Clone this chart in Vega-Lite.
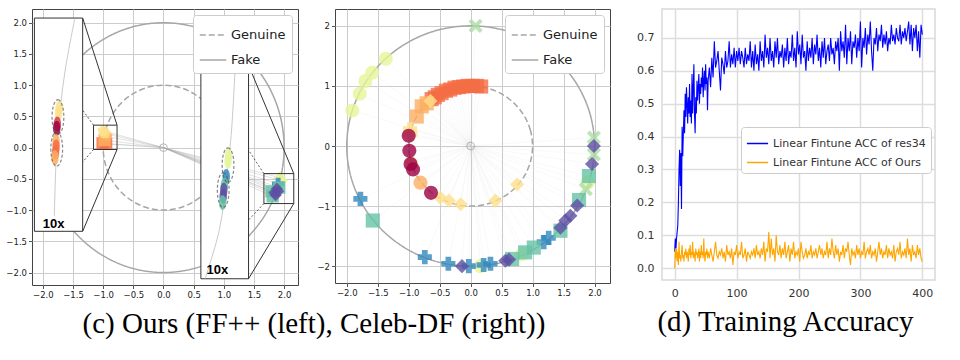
{
"$schema": "https://vega.github.io/schema/vega-lite/v6.json",
"background": "white",
"padding": {"left": 5, "top": 8, "right": 5, "bottom": 5},
"config": {"font": "DejaVu Sans", "title": {"font": "Liberation Serif", "fontSize": 29, "fontWeight": "normal", "color": "#000000", "orient": "bottom", "offset": 10, "anchor": "middle"}},
"datasets": {
"circ": [
{"c":"Genuine","i":0,"x":1,"y":0},{"c":"Genuine","i":1,"x":0.966,"y":0.259},{"c":"Genuine","i":2,"x":0.866,"y":0.5},{"c":"Genuine","i":3,"x":0.707,"y":0.707},{"c":"Genuine","i":4,"x":0.5,"y":0.866},{"c":"Genuine","i":5,"x":0.259,"y":0.966},{"c":"Genuine","i":6,"x":0,"y":1},{"c":"Genuine","i":7,"x":-0.259,"y":0.966},{"c":"Genuine","i":8,"x":-0.5,"y":0.866},{"c":"Genuine","i":9,"x":-0.707,"y":0.707},{"c":"Genuine","i":10,"x":-0.866,"y":0.5},{"c":"Genuine","i":11,"x":-0.966,"y":0.259},{"c":"Genuine","i":12,"x":-1,"y":0},{"c":"Genuine","i":13,"x":-0.966,"y":-0.259},{"c":"Genuine","i":14,"x":-0.866,"y":-0.5},{"c":"Genuine","i":15,"x":-0.707,"y":-0.707},{"c":"Genuine","i":16,"x":-0.5,"y":-0.866},{"c":"Genuine","i":17,"x":-0.259,"y":-0.966},{"c":"Genuine","i":18,"x":0,"y":-1},{"c":"Genuine","i":19,"x":0.259,"y":-0.966},{"c":"Genuine","i":20,"x":0.5,"y":-0.866},{"c":"Genuine","i":21,"x":0.707,"y":-0.707},{"c":"Genuine","i":22,"x":0.866,"y":-0.5},{"c":"Genuine","i":23,"x":0.966,"y":-0.259},
{"c":"Fake","i":0,"x":2,"y":0},{"c":"Fake","i":1,"x":1.932,"y":0.518},{"c":"Fake","i":2,"x":1.732,"y":1},{"c":"Fake","i":3,"x":1.414,"y":1.414},{"c":"Fake","i":4,"x":1,"y":1.732},{"c":"Fake","i":5,"x":0.518,"y":1.932},{"c":"Fake","i":6,"x":0,"y":2},{"c":"Fake","i":7,"x":-0.518,"y":1.932},{"c":"Fake","i":8,"x":-1,"y":1.732},{"c":"Fake","i":9,"x":-1.414,"y":1.414},{"c":"Fake","i":10,"x":-1.732,"y":1},{"c":"Fake","i":11,"x":-1.932,"y":0.518},{"c":"Fake","i":12,"x":-2,"y":0},{"c":"Fake","i":13,"x":-1.932,"y":-0.518},{"c":"Fake","i":14,"x":-1.732,"y":-1},{"c":"Fake","i":15,"x":-1.414,"y":-1.414},{"c":"Fake","i":16,"x":-1,"y":-1.732},{"c":"Fake","i":17,"x":-0.518,"y":-1.932},{"c":"Fake","i":18,"x":0,"y":-2},{"c":"Fake","i":19,"x":0.518,"y":-1.932},{"c":"Fake","i":20,"x":1,"y":-1.732},{"c":"Fake","i":21,"x":1.414,"y":-1.414},{"c":"Fake","i":22,"x":1.732,"y":-1},{"c":"Fake","i":23,"x":1.932,"y":-0.518}
],
"p1pts": [
{"x":-1.01,"y":0.07,"k":2,"m":"s"},{"x":-0.95,"y":0.06,"k":2,"m":"s"},{"x":-0.98,"y":0.12,"k":3,"m":"s"},{"x":-0.94,"y":0.18,"k":3,"m":"p"},{"x":-1.0,"y":0.27,"k":4,"m":"p"},{"x":-0.97,"y":0.23,"k":4,"m":"p"},
{"x":1.93,"y":-0.48,"k":5,"m":"D"},{"x":1.96,"y":-0.53,"k":5,"m":"D"},{"x":1.90,"y":-0.58,"k":8,"m":"P"},{"x":1.92,"y":-0.64,"k":7,"m":"s"},{"x":1.81,"y":-0.78,"k":7,"m":"s"},{"x":1.79,"y":-0.70,"k":7,"m":"s"},{"x":1.88,"y":-0.66,"k":9,"m":"D"},{"x":1.84,"y":-0.72,"k":9,"m":"D"},{"x":1.90,"y":-0.70,"k":9,"m":"D"},{"x":1.86,"y":-0.76,"k":9,"m":"D"}
],
"p2pts": [
{"x":-1.37,"y":1.45,"k":5,"m":"o"},{"x":-1.59,"y":1.22,"k":5,"m":"o"},{"x":-1.70,"y":1.08,"k":5,"m":"o"},{"x":-1.79,"y":0.87,"k":5,"m":"o"},{"x":-1.91,"y":0.59,"k":5,"m":"o"},{"x":1.89,"y":-0.61,"k":5,"m":"o"},{"x":0.16,"y":-2.0,"k":5,"m":"o"},{"x":0.83,"y":-1.80,"k":5,"m":"o"},
{"x":0.08,"y":2.0,"k":6,"m":"X"},{"x":1.99,"y":0.14,"k":6,"m":"X"},{"x":1.99,"y":-0.14,"k":6,"m":"X"},{"x":1.86,"y":-0.72,"k":6,"m":"X"},
{"x":-1.78,"y":-0.88,"k":8,"m":"P"},{"x":-0.74,"y":-1.85,"k":8,"m":"P"},{"x":-0.36,"y":-1.96,"k":8,"m":"P"},{"x":-0.03,"y":-2.0,"k":8,"m":"P"},{"x":0.21,"y":-1.98,"k":8,"m":"P"},{"x":0.32,"y":-1.96,"k":8,"m":"P"},{"x":1.18,"y":-1.60,"k":8,"m":"P"},{"x":1.26,"y":-1.53,"k":8,"m":"P"},
{"x":-1.58,"y":-1.24,"k":7,"m":"s"},{"x":1.91,"y":-0.50,"k":7,"m":"s"},{"x":1.75,"y":-0.90,"k":7,"m":"s"},{"x":1.45,"y":-1.41,"k":7,"m":"s"},{"x":1.02,"y":-1.69,"k":7,"m":"s"},{"x":0.88,"y":-1.77,"k":7,"m":"s"},{"x":0.67,"y":-1.88,"k":7,"m":"s"},
{"x":1.99,"y":0.0,"k":9,"m":"D"},{"x":1.96,"y":-0.30,"k":9,"m":"D"},{"x":1.72,"y":-0.99,"k":9,"m":"D"},{"x":1.61,"y":-1.16,"k":9,"m":"D"},{"x":1.53,"y":-1.24,"k":9,"m":"D"},{"x":1.45,"y":-1.36,"k":9,"m":"D"},{"x":0.56,"y":-1.91,"k":9,"m":"D"},{"x":0.62,"y":-1.89,"k":9,"m":"D"},{"x":-0.14,"y":-2.0,"k":9,"m":"D"},
{"x":0.17,"y":0.99,"k":2,"m":"s"},{"x":0.10,"y":1.0,"k":2,"m":"s"},{"x":0.03,"y":1.0,"k":2,"m":"s"},{"x":-0.05,"y":1.0,"k":2,"m":"s"},{"x":-0.12,"y":0.99,"k":2,"m":"s"},{"x":-0.19,"y":0.98,"k":2,"m":"s"},{"x":-0.26,"y":0.97,"k":2,"m":"s"},{"x":-0.33,"y":0.94,"k":2,"m":"s"},{"x":-0.40,"y":0.92,"k":2,"m":"s"},{"x":-0.47,"y":0.88,"k":2,"m":"s"},{"x":-0.53,"y":0.85,"k":2,"m":"s"},{"x":-0.58,"y":0.81,"k":2,"m":"s"},{"x":-0.63,"y":0.78,"k":2,"m":"s"},
{"x":-0.71,"y":0.71,"k":3,"m":"s"},{"x":-0.79,"y":0.66,"k":3,"m":"s"},{"x":-0.87,"y":0.49,"k":3,"m":"s"},
{"x":-0.65,"y":0.75,"k":4,"m":"D"},{"x":-0.96,"y":-0.25,"k":4,"m":"D"},{"x":-0.49,"y":-0.86,"k":4,"m":"D"},{"x":-0.35,"y":-0.91,"k":4,"m":"D"},{"x":-0.16,"y":-0.97,"k":4,"m":"D"},{"x":0.40,"y":-0.91,"k":4,"m":"D"},{"x":0.75,"y":-0.64,"k":4,"m":"D"},
{"x":-0.98,"y":0.28,"k":4,"m":"P"},{"x":-0.97,"y":0.20,"k":4,"m":"P"},
{"x":-1.0,"y":0.17,"k":0,"m":"o"},{"x":-0.99,"y":-0.08,"k":0,"m":"o"},{"x":-0.97,"y":-0.30,"k":0,"m":"o"},{"x":-0.93,"y":-0.39,"k":0,"m":"o"},{"x":-0.64,"y":-0.78,"k":0,"m":"o"},
{"x":-0.81,"y":-0.61,"k":3,"m":"o"}
],
"acc": [
{"e":0,"r":0.05,"o":0.00},{"e":1,"r":0.09,"o":0.06},{"e":2,"r":0.06,"o":0.03},{"e":3,"r":0.09,"o":0.06},{"e":4,"r":0.11,"o":0.02},{"e":5,"r":0.13,"o":0.05},{"e":6,"r":0.20,"o":0.01},{"e":7,"r":0.30,"o":0.08},{"e":8,"r":0.36,"o":0.03},{"e":9,"r":0.25,"o":0.04},
{"e":10,"r":0.35,"o":0.02},{"e":11,"r":0.18,"o":0.05},{"e":12,"r":0.43,"o":0.07},{"e":13,"r":0.34,"o":0.03},{"e":14,"r":0.41,"o":0.04},{"e":15,"r":0.48,"o":0.02},{"e":16,"r":0.41,"o":0.05},{"e":17,"r":0.53,"o":0.04},{"e":18,"r":0.46,"o":0.06},{"e":19,"r":0.55,"o":0.03},
{"e":20,"r":0.50,"o":0.05},{"e":21,"r":0.44,"o":0.04},{"e":22,"r":0.52,"o":0.02},{"e":23,"r":0.47,"o":0.06},{"e":24,"r":0.56,"o":0.04},{"e":25,"r":0.46,"o":0.07},{"e":26,"r":0.51,"o":0.03},{"e":27,"r":0.44,"o":0.05},{"e":28,"r":0.59,"o":0.04},{"e":29,"r":0.47,"o":0.08},
{"e":30,"r":0.55,"o":0.03},{"e":31,"r":0.62,"o":0.05},{"e":32,"r":0.47,"o":0.04},{"e":33,"r":0.41,"o":0.02},{"e":34,"r":0.52,"o":0.06},{"e":35,"r":0.47,"o":0.04},{"e":36,"r":0.57,"o":0.05},{"e":37,"r":0.51,"o":0.03},{"e":38,"r":0.55,"o":0.04},{"e":39,"r":0.59,"o":0.06},
{"e":40,"r":0.50,"o":0.02},{"e":41,"r":0.56,"o":0.05},{"e":42,"r":0.53,"o":0.03},{"e":43,"r":0.58,"o":0.07},{"e":44,"r":0.55,"o":0.04},{"e":45,"r":0.61,"o":0.05},{"e":46,"r":0.52,"o":0.03},{"e":47,"r":0.57,"o":0.09},{"e":48,"r":0.60,"o":0.04},{"e":49,"r":0.54,"o":0.02},
{"e":50,"r":0.62,"o":0.05},{"e":51,"r":0.56,"o":0.04},{"e":52,"r":0.58,"o":0.06},{"e":53,"r":0.48,"o":0.03},
{"e":54,"r":0.57,"o":0.05},{"e":56,"r":0.61,"o":0.03},{"e":58,"r":0.55,"o":0.06},{"e":60,"r":0.64,"o":0.04},{"e":62,"r":0.58,"o":0.02},{"e":64,"r":0.69,"o":0.05},{"e":66,"r":0.61,"o":0.08},{"e":68,"r":0.63,"o":0.04},{"e":70,"r":0.66,"o":0.03},{"e":72,"r":0.60,"o":0.05},
{"e":74,"r":0.54,"o":0.04},{"e":76,"r":0.64,"o":0.06},{"e":78,"r":0.62,"o":0.03},{"e":80,"r":0.59,"o":0.05},{"e":82,"r":0.66,"o":0.02},{"e":84,"r":0.61,"o":0.07},{"e":86,"r":0.63,"o":0.04},{"e":88,"r":0.69,"o":0.05},{"e":90,"r":0.61,"o":0.03},{"e":92,"r":0.65,"o":0.06},
{"e":94,"r":0.62,"o":0.01},{"e":96,"r":0.67,"o":0.05},{"e":98,"r":0.61,"o":0.04},{"e":100,"r":0.66,"o":0.07},{"e":102,"r":0.63,"o":0.03},{"e":104,"r":0.67,"o":0.05},{"e":106,"r":0.62,"o":0.04},{"e":108,"r":0.66,"o":0.08},{"e":110,"r":0.64,"o":0.03},{"e":112,"r":0.61,"o":0.04},
{"e":114,"r":0.67,"o":0.06},{"e":116,"r":0.62,"o":0.02},{"e":118,"r":0.65,"o":0.05},{"e":120,"r":0.63,"o":0.04},{"e":122,"r":0.69,"o":0.03},{"e":124,"r":0.61,"o":0.05},{"e":126,"r":0.66,"o":0.04},{"e":128,"r":0.60,"o":0.06},{"e":130,"r":0.68,"o":0.03},{"e":132,"r":0.62,"o":0.07},
{"e":134,"r":0.65,"o":0.04},{"e":136,"r":0.60,"o":0.05},{"e":138,"r":0.69,"o":0.03},{"e":140,"r":0.63,"o":0.06},{"e":142,"r":0.66,"o":0.04},{"e":144,"r":0.61,"o":0.08},{"e":146,"r":0.71,"o":0.02},{"e":148,"r":0.64,"o":0.06},{"e":150,"r":0.67,"o":0.05},{"e":152,"r":0.62,"o":0.11},
{"e":154,"r":0.70,"o":0.03},{"e":156,"r":0.63,"o":0.09},{"e":158,"r":0.66,"o":0.04},{"e":160,"r":0.61,"o":0.06},{"e":162,"r":0.69,"o":0.02},{"e":164,"r":0.64,"o":0.10},{"e":166,"r":0.70,"o":0.05},{"e":168,"r":0.62,"o":0.04},{"e":170,"r":0.66,"o":0.07},{"e":172,"r":0.64,"o":0.03},
{"e":174,"r":0.68,"o":0.06},{"e":176,"r":0.61,"o":0.04},{"e":178,"r":0.67,"o":0.08},{"e":180,"r":0.63,"o":0.03},{"e":182,"r":0.70,"o":0.05},{"e":184,"r":0.62,"o":0.07},{"e":186,"r":0.66,"o":0.02},{"e":188,"r":0.64,"o":0.06},{"e":190,"r":0.71,"o":0.04},{"e":192,"r":0.63,"o":0.08},
{"e":194,"r":0.67,"o":0.03},{"e":196,"r":0.61,"o":0.05},{"e":198,"r":0.72,"o":0.04},{"e":200,"r":0.65,"o":0.06},{"e":202,"r":0.68,"o":0.02},{"e":204,"r":0.62,"o":0.08},{"e":206,"r":0.71,"o":0.05},{"e":208,"r":0.64,"o":0.03},{"e":210,"r":0.66,"o":0.04},{"e":212,"r":0.60,"o":0.06},
{"e":214,"r":0.69,"o":0.03},{"e":216,"r":0.63,"o":0.05},{"e":218,"r":0.67,"o":0.04},{"e":220,"r":0.64,"o":0.07},{"e":222,"r":0.70,"o":0.03},{"e":224,"r":0.62,"o":0.05},{"e":226,"r":0.68,"o":0.04},{"e":228,"r":0.65,"o":0.06},{"e":230,"r":0.71,"o":0.03},{"e":232,"r":0.63,"o":0.05},
{"e":234,"r":0.67,"o":0.07},{"e":236,"r":0.61,"o":0.04},{"e":238,"r":0.69,"o":0.06},{"e":240,"r":0.64,"o":0.03},{"e":242,"r":0.70,"o":0.05},{"e":244,"r":0.62,"o":0.04},{"e":246,"r":0.66,"o":0.08},{"e":248,"r":0.68,"o":0.03},{"e":250,"r":0.63,"o":0.06},{"e":252,"r":0.70,"o":0.04},
{"e":254,"r":0.65,"o":0.09},{"e":256,"r":0.67,"o":0.05},{"e":258,"r":0.62,"o":0.03},{"e":260,"r":0.69,"o":0.07},{"e":262,"r":0.66,"o":0.04},{"e":264,"r":0.70,"o":0.06},{"e":266,"r":0.60,"o":0.02},{"e":268,"r":0.72,"o":0.05},{"e":270,"r":0.66,"o":0.04},{"e":272,"r":0.69,"o":0.07},
{"e":274,"r":0.64,"o":0.03},{"e":276,"r":0.74,"o":0.06},{"e":278,"r":0.62,"o":0.05},{"e":280,"r":0.70,"o":0.08},{"e":282,"r":0.66,"o":0.04},{"e":284,"r":0.72,"o":0.01},{"e":286,"r":0.62,"o":0.06},{"e":288,"r":0.69,"o":0.04},{"e":290,"r":0.67,"o":0.05},{"e":292,"r":0.71,"o":0.03},
{"e":294,"r":0.64,"o":0.07},{"e":296,"r":0.70,"o":0.04},{"e":298,"r":0.66,"o":0.06},{"e":300,"r":0.75,"o":0.03},{"e":302,"r":0.61,"o":0.05},{"e":304,"r":0.70,"o":0.04},{"e":306,"r":0.67,"o":0.08},{"e":308,"r":0.73,"o":0.03},{"e":310,"r":0.65,"o":0.05},{"e":312,"r":0.71,"o":0.06},
{"e":314,"r":0.68,"o":0.04},{"e":316,"r":0.75,"o":0.07},{"e":318,"r":0.66,"o":0.03},{"e":320,"r":0.60,"o":0.05},{"e":322,"r":0.70,"o":0.04},{"e":324,"r":0.68,"o":0.06},{"e":326,"r":0.73,"o":0.02},{"e":328,"r":0.66,"o":0.05},{"e":330,"r":0.71,"o":0.08},{"e":332,"r":0.69,"o":0.04},
{"e":334,"r":0.74,"o":0.06},{"e":336,"r":0.67,"o":0.03},{"e":338,"r":0.71,"o":0.05},{"e":340,"r":0.68,"o":0.04},{"e":342,"r":0.72,"o":0.07},{"e":344,"r":0.66,"o":0.03},{"e":346,"r":0.70,"o":0.06},{"e":348,"r":0.68,"o":0.04},{"e":350,"r":0.74,"o":0.05},{"e":352,"r":0.69,"o":0.03},
{"e":354,"r":0.71,"o":0.07},{"e":356,"r":0.68,"o":0.02},{"e":358,"r":0.73,"o":0.05},{"e":360,"r":0.70,"o":0.06},{"e":362,"r":0.69,"o":0.04},{"e":364,"r":0.74,"o":0.08},{"e":366,"r":0.68,"o":0.03},{"e":368,"r":0.72,"o":0.05},{"e":370,"r":0.70,"o":0.04},{"e":372,"r":0.73,"o":0.06},
{"e":374,"r":0.69,"o":0.03},{"e":376,"r":0.72,"o":0.09},{"e":378,"r":0.75,"o":0.04},{"e":380,"r":0.68,"o":0.06},{"e":382,"r":0.74,"o":0.02},{"e":384,"r":0.66,"o":0.07},{"e":386,"r":0.73,"o":0.04},{"e":388,"r":0.70,"o":0.05},{"e":390,"r":0.74,"o":0.03},{"e":392,"r":0.66,"o":0.07},
{"e":394,"r":0.72,"o":0.04},{"e":396,"r":0.64,"o":0.06},{"e":398,"r":0.74,"o":0.03},{"e":400,"r":0.71,"o":0.02}
]
},
"spacing": 24,
"resolve": {"scale": {"color": "independent", "strokeDash": "independent", "shape": "independent"}, "legend": {"color": "independent", "strokeDash": "independent", "shape": "independent"}},
"hconcat": [
{
"spacing": 17,
"title": {"text": "(c) Ours (FF++ (left), Celeb-DF (right))", "dx": 6},
"resolve": {"scale": {"color": "independent", "strokeDash": "independent", "shape": "independent"}, "legend": {"color": "independent", "strokeDash": "independent", "shape": "independent"}},
"hconcat": [
{
"width": 266, "height": 276,
"view": {"stroke": "#444444"},
"encoding": {
"x": {"field": "x", "type": "quantitative", "title": null, "scale": {"domain": [-2.18, 2.23], "nice": false, "zero": false}, "axis": {"values": [-2, -1.5, -1, -0.5, 0, 0.5, 1, 1.5, 2], "format": ".1f", "grid": true, "gridColor": "#cccccc", "domain": false, "tickColor": "#555555", "tickSize": 3.5, "labelFontSize": 8.5, "labelColor": "#222222", "labelPadding": 2}},
"y": {"field": "y", "type": "quantitative", "title": null, "scale": {"domain": [-2.2, 2.22], "nice": false, "zero": false}, "axis": {"values": [-2, -1.5, -1, -0.5, 0, 0.5, 1, 1.5, 2], "format": ".1f", "grid": true, "gridColor": "#cccccc", "domain": false, "tickColor": "#555555", "tickSize": 3.5, "labelFontSize": 8.5, "labelColor": "#222222", "labelPadding": 2}}
},
"layer": [
{"data": {"name": "circ"}, "mark": {"type": "line", "interpolate": "cardinal-closed", "color": "#a6a6a6", "strokeWidth": 1.5},
 "encoding": {"order": {"field": "i"}, "strokeDash": {"field": "c", "type": "nominal", "scale": {"domain": ["Genuine", "Fake"], "range": [[6, 3], [1, 0]]},
  "legend": {"title": null, "orient": "top-right", "offset": 6, "fillColor": "white", "strokeColor": "#cccccc", "padding": 6, "cornerRadius": 3, "symbolType": "stroke", "symbolSize": 700, "symbolStrokeWidth": 1.5, "symbolStrokeColor": "#a6a6a6", "labelFontSize": 13, "labelColor": "#222222", "rowPadding": 4}}}},
{"data": {"values": [{"x": 0, "y": 0}]}, "mark": {"type": "point", "filled": false, "color": "#999999", "size": 60, "strokeWidth": 1}},
{"data": {"name": "p1pts"}, "mark": {"type": "rule", "color": "#aaaaaa", "opacity": 0.35, "strokeWidth": 1}, "encoding": {"x2": {"datum": 0}, "y2": {"datum": 0}}},
{"data": {"name": "p1pts"}, "mark": {"type": "point", "filled": true, "opacity": 0.85, "size": 150},
 "encoding": {"color": {"field": "k", "type": "nominal", "legend": null, "scale": {"domain": [0,1,2,3,4,5,6,7,8,9], "range": ["#9e0142","#d53e4f","#f46d43","#fdae61","#fee08b","#e6f598","#abdda4","#66c2a5","#3288bd","#5e4fa2"]}},
  "shape": {"field": "m", "type": "nominal", "legend": null, "scale": {"domain": ["o","s","D","P","X","p"], "range": ["circle","square","diamond","cross","M-1,-0.6L-0.6,-1L0,-0.4L0.6,-1L1,-0.6L0.4,0L1,0.6L0.6,1L0,0.4L-0.6,1L-1,0.6L-0.4,0Z","M0,-1L0.95,-0.31L0.59,0.81L-0.59,0.81L-0.95,-0.31Z"]}}}},
{"data": {"values": [{"x": -2.14, "x2": -1.34, "y": -1.34, "y2": 2.075}, {"x": 0.62, "x2": 1.41, "y": -2.10, "y2": 1.32}]}, "mark": {"type": "rect", "fill": "white", "stroke": "#333333", "strokeWidth": 1}, "encoding": {"x2": {"field": "x2"}, "y2": {"field": "y2"}}},
{"data": {"values": [{"g":1,"x":-1.47,"y":2.07},{"g":1,"x":-1.62,"y":1.3},{"g":1,"x":-1.72,"y":0.55},{"g":1,"x":-1.78,"y":-0.2},{"g":1,"x":-1.81,"y":-1.1},{"g":2,"x":1.19,"y":1.32},{"g":2,"x":1.13,"y":0.3},{"g":2,"x":1.05,"y":-0.45},{"g":2,"x":0.93,"y":-1.3},{"g":2,"x":0.69,"y":-2.1}]},
 "mark": {"type": "line", "interpolate": "cardinal", "color": "#bbbbbb", "strokeWidth": 0.8}, "encoding": {"detail": {"field": "g"}, "order": {"field": "y"}}},
{"data": {"values": [{"x":-1.73,"y":0.63,"k":4},{"x":-1.74,"y":0.55,"k":4},{"x":-1.76,"y":0.38,"k":1},{"x":-1.77,"y":0.31,"k":0},{"x":-1.78,"y":0.10,"k":3},{"x":-1.78,"y":0.01,"k":2},{"x":-1.79,"y":-0.08,"k":2},{"x":-1.80,"y":-0.16,"k":3},{"x":1.08,"y":-0.12,"k":5},{"x":1.07,"y":-0.22,"k":5},{"x":1.04,"y":-0.46,"k":8},{"x":1.01,"y":-0.60,"k":7},{"x":1.00,"y":-0.68,"k":9},{"x":0.99,"y":-0.78,"k":9},{"x":0.98,"y":-0.88,"k":7}]},
 "mark": {"type": "point", "filled": true, "opacity": 0.85, "size": 220, "shape": "M0,-1A0.5,1,0,1,1,0,1A0.5,1,0,1,1,0,-1Z"},
 "encoding": {"color": {"field": "k", "type": "nominal", "legend": null, "scale": {"domain": [0,1,2,3,4,5,6,7,8,9], "range": ["#9e0142","#d53e4f","#f46d43","#fdae61","#fee08b","#e6f598","#abdda4","#66c2a5","#3288bd","#5e4fa2"]}}}},
{"data": {"values": [{"x":-1.75,"y":0.49},{"x":-1.77,"y":-0.02},{"x":1.07,"y":-0.28},{"x":0.99,"y":-0.68}]},
 "mark": {"type": "point", "filled": false, "size": 1200, "color": "#555555", "strokeWidth": 1.2, "strokeDash": [3, 2], "shape": "M0,-1A0.34,1,0,1,1,0,1A0.34,1,0,1,1,0,-1Z"}},
{"data": {"values": [{"x": -1.16, "x2": -0.77, "y": -0.03, "y2": 0.36}, {"x": 1.665, "x2": 2.16, "y": -0.896, "y2": -0.416}]}, "mark": {"type": "rect", "fillOpacity": 0, "stroke": "#333333", "strokeWidth": 1}, "encoding": {"x2": {"field": "x2"}, "y2": {"field": "y2"}}},
{"data": {"values": [{"x":-1.34,"y":2.075,"x2":-0.77,"y2":0.36},{"x":-1.34,"y":-1.34,"x2":-0.77,"y2":-0.03},{"x":1.41,"y":1.32,"x2":2.16,"y2":-0.416},{"x":1.41,"y":-2.10,"x2":2.16,"y2":-0.896}]}, "mark": {"type": "rule", "color": "#333333", "strokeWidth": 1}, "encoding": {"x2": {"field": "x2"}, "y2": {"field": "y2"}}},
{"data": {"values": [{"x":-1.16,"y":0.36,"x2":-1.34,"y2":0.6},{"x":-1.16,"y":-0.03,"x2":-1.34,"y2":-0.23},{"x":1.665,"y":-0.416,"x2":1.41,"y2":-0.04},{"x":1.665,"y":-0.896,"x2":1.41,"y2":-1.16}]}, "mark": {"type": "rule", "color": "#333333", "strokeWidth": 0.8, "strokeDash": [2, 2]}, "encoding": {"x2": {"field": "x2"}, "y2": {"field": "y2"}}},
{"data": {"values": [{"x": -2.0, "y": -1.22, "t": "10x"}, {"x": 0.715, "y": -1.96, "t": "10x"}]}, "mark": {"type": "text", "font": "Liberation Sans", "fontWeight": "bold", "fontSize": 13, "align": "left", "baseline": "middle", "color": "#000000"}, "encoding": {"text": {"field": "t"}}}
]
},
{
"width": 275, "height": 274,
"view": {"stroke": "#444444"},
"encoding": {
"x": {"field": "x", "type": "quantitative", "title": null, "scale": {"domain": [-2.19, 2.25], "nice": false, "zero": false}, "axis": {"values": [-2, -1.5, -1, -0.5, 0, 0.5, 1, 1.5, 2], "format": ".1f", "grid": true, "gridColor": "#cccccc", "domain": false, "tickColor": "#555555", "tickSize": 3.5, "labelFontSize": 8.5, "labelColor": "#222222", "labelPadding": 2}},
"y": {"field": "y", "type": "quantitative", "title": null, "scale": {"domain": [-2.28, 2.28], "nice": false, "zero": false}, "axis": {"values": [-2, -1, 0, 1, 2], "format": "d", "grid": true, "gridColor": "#cccccc", "domain": false, "tickColor": "#555555", "tickSize": 3.5, "labelFontSize": 8.5, "labelColor": "#222222", "labelPadding": 2}}
},
"layer": [
{"data": {"name": "p2pts"}, "mark": {"type": "rule", "color": "#cccccc", "opacity": 0.15, "strokeWidth": 0.8}, "encoding": {"x2": {"datum": 0}, "y2": {"datum": 0}}},
{"data": {"name": "circ"}, "mark": {"type": "line", "interpolate": "cardinal-closed", "color": "#a6a6a6", "strokeWidth": 1.5},
 "encoding": {"order": {"field": "i"}, "strokeDash": {"field": "c", "type": "nominal", "scale": {"domain": ["Genuine", "Fake"], "range": [[6, 3], [1, 0]]},
  "legend": {"title": null, "orient": "top-right", "offset": 6, "fillColor": "white", "strokeColor": "#cccccc", "padding": 6, "cornerRadius": 3, "symbolType": "stroke", "symbolSize": 700, "symbolStrokeWidth": 1.5, "symbolStrokeColor": "#a6a6a6", "labelFontSize": 13, "labelColor": "#222222", "rowPadding": 4}}}},
{"data": {"values": [{"x": 0, "y": 0}]}, "mark": {"type": "point", "filled": false, "color": "#999999", "size": 60, "strokeWidth": 1}},
{"data": {"name": "p2pts"}, "mark": {"type": "point", "filled": true, "opacity": 0.8, "size": 200},
 "encoding": {"color": {"field": "k", "type": "nominal", "legend": null, "scale": {"domain": [0,1,2,3,4,5,6,7,8,9], "range": ["#9e0142","#d53e4f","#f46d43","#fdae61","#fee08b","#e6f598","#abdda4","#66c2a5","#3288bd","#5e4fa2"]}},
  "shape": {"field": "m", "type": "nominal", "legend": null, "scale": {"domain": ["o","s","D","P","X","p"], "range": ["circle","square","diamond","cross","M-1,-0.6L-0.6,-1L0,-0.4L0.6,-1L1,-0.6L0.4,0L1,0.6L0.6,1L0,0.4L-0.6,1L-1,0.6L-0.4,0Z","M0,-1L0.95,-0.31L0.59,0.81L-0.59,0.81L-0.95,-0.31Z"]}}}}
]
}
]
},
{
"width": 273, "height": 271,
"title": {"text": "(d) Training Accuracy", "dx": -13},
"view": {"stroke": "#d9d9d9", "strokeWidth": 1.5},
"data": {"name": "acc"},
"transform": [{"fold": ["r", "o"], "as": ["s", "v"]}],
"mark": {"type": "line", "strokeWidth": 1.1},
"encoding": {
"x": {"field": "e", "type": "quantitative", "title": null, "scale": {"domain": [-20.5, 420.5], "nice": false, "zero": false}, "axis": {"values": [0, 100, 200, 300, 400], "grid": true, "gridColor": "#dddddd", "gridWidth": 1.5, "domain": false, "ticks": false, "labelFontSize": 11, "labelColor": "#333333", "labelPadding": 7}},
"y": {"field": "v", "type": "quantitative", "title": null, "scale": {"domain": [-0.036, 0.788], "nice": false, "zero": false}, "axis": {"values": [0, 0.1, 0.2, 0.3, 0.4, 0.5, 0.6, 0.7], "format": ".1f", "grid": true, "gridColor": "#dddddd", "gridWidth": 1.5, "domain": false, "ticks": false, "labelFontSize": 11, "labelColor": "#333333", "labelPadding": 8}},
"color": {"field": "s", "type": "nominal", "scale": {"domain": ["r", "o"], "range": ["#0000ff", "#ffa500"]},
 "legend": {"title": null, "orient": "none", "legendX": 79, "legendY": 118, "fillColor": "white", "strokeColor": "#cccccc", "padding": 5, "cornerRadius": 3, "symbolType": "stroke", "symbolSize": 450, "symbolStrokeWidth": 1.5, "labelFontSize": 11, "labelColor": "#333333", "rowPadding": 2,
  "labelExpr": "datum.label == 'r' ? 'Linear Fintune ACC of res34' : 'Linear Fintune ACC of Ours'"}}
}
}
]
}
